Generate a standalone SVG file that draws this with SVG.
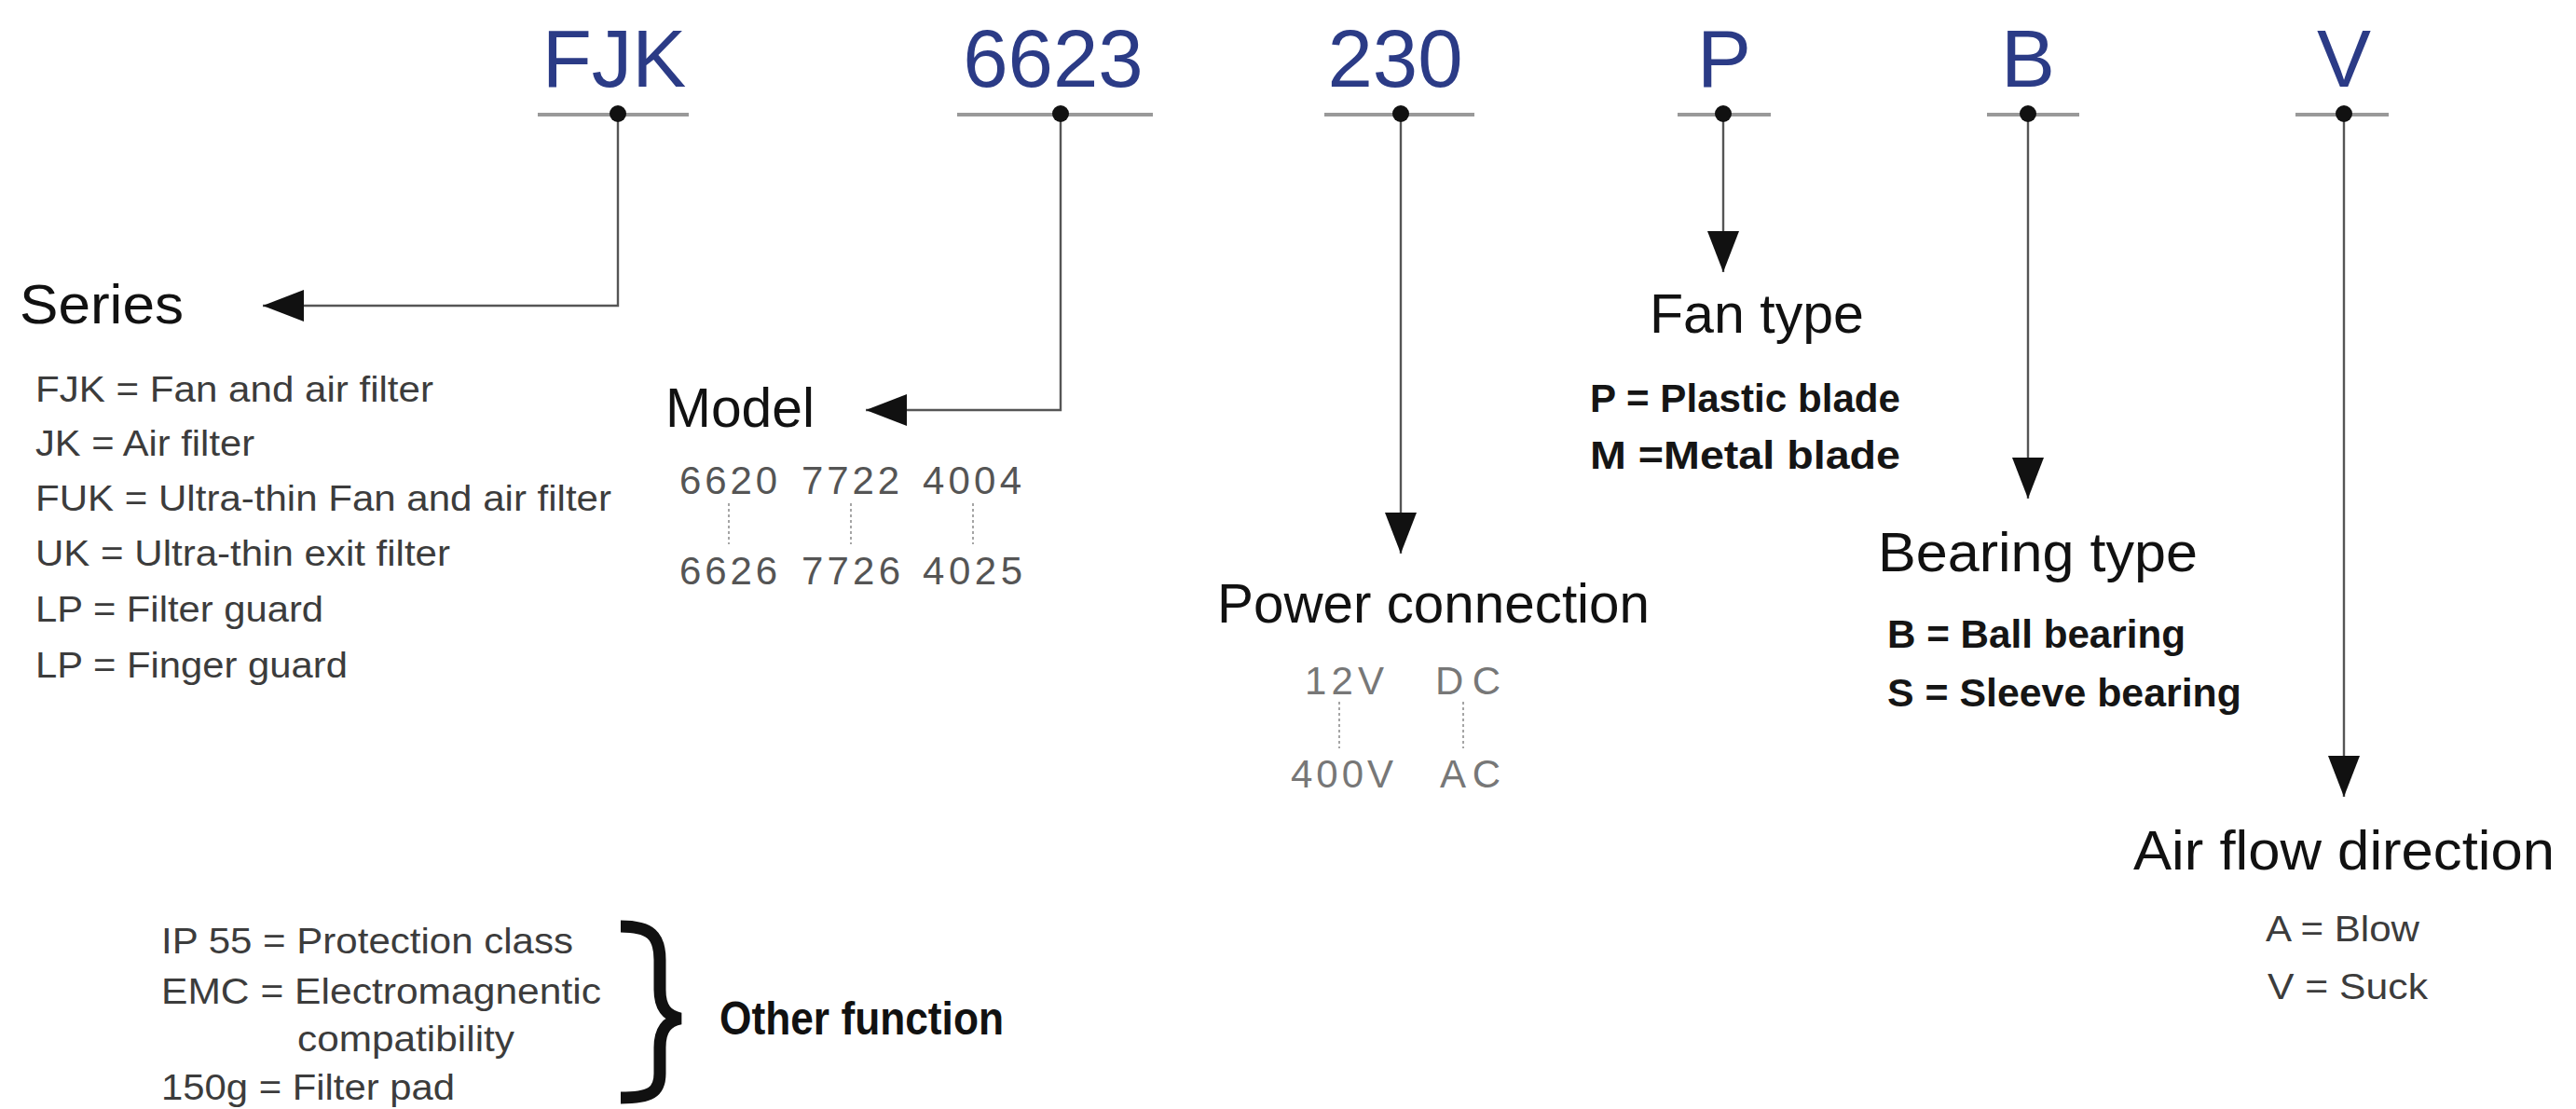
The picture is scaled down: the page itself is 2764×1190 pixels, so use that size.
<svg xmlns="http://www.w3.org/2000/svg" width="2764" height="1190" viewBox="0 0 2764 1190">
<style>
.code{font-family:"Liberation Sans",Arial,sans-serif;font-size:87px;fill:#2b3b86;text-anchor:middle}
.head{font-family:"Liberation Sans",Arial,sans-serif;font-size:60px;fill:#111}
.item{font-family:"Liberation Sans",Arial,sans-serif;font-size:38px;fill:#3c3c3c}
.bold{font-family:"Liberation Sans",Arial,sans-serif;font-size:42px;font-weight:bold;fill:#151515}
.num{font-family:"Liberation Sans",Arial,sans-serif;font-size:42px;fill:#555}
.pw{font-family:"Liberation Sans",Arial,sans-serif;font-size:42px;fill:#777}
.bar{stroke:#999;stroke-width:4}
.dot{fill:#111}
.conn{fill:none;stroke:#555;stroke-width:2.4}
.dash{stroke:#888;stroke-width:1.5;stroke-dasharray:3 3}
.brace{fill:none;stroke:#111;stroke-width:13;stroke-linecap:butt}
</style>
<defs>
<marker id="arrow" markerUnits="userSpaceOnUse" markerWidth="46" markerHeight="36" refX="44" refY="17" orient="auto">
<path d="M0,0 L44,17 L0,34 Z" fill="#111"/>
</marker>
</defs>

<g id="connectors">
<path class="conn" d="M663,123 V328 H282" marker-end="url(#arrow)"/>
<path class="conn" d="M1138,123 V440 H929" marker-end="url(#arrow)"/>
<path class="conn" d="M1503,123 V594" marker-end="url(#arrow)"/>
<path class="conn" d="M1849,123 V292" marker-end="url(#arrow)"/>
<path class="conn" d="M2176,123 V535" marker-end="url(#arrow)"/>
<path class="conn" d="M2515,123 V855" marker-end="url(#arrow)"/>
</g>

<g id="code-fjk">
<text class="code" x="659" y="93">FJK</text>
<line class="bar" x1="577" y1="123" x2="739" y2="123"/>
<circle class="dot" cx="663" cy="122" r="9"/>
</g>
<g id="code-6623">
<text class="code" x="1130" y="93">6623</text>
<line class="bar" x1="1027" y1="123" x2="1237" y2="123"/>
<circle class="dot" cx="1138" cy="122" r="9"/>
</g>
<g id="code-230">
<text class="code" x="1497" y="93">230</text>
<line class="bar" x1="1421" y1="123" x2="1582" y2="123"/>
<circle class="dot" cx="1503" cy="122" r="9"/>
</g>
<g id="code-p">
<text class="code" x="1850" y="93">P</text>
<line class="bar" x1="1800" y1="123" x2="1900" y2="123"/>
<circle class="dot" cx="1849" cy="122" r="9"/>
</g>
<g id="code-b">
<text class="code" x="2176" y="93">B</text>
<line class="bar" x1="2132" y1="123" x2="2231" y2="123"/>
<circle class="dot" cx="2176" cy="122" r="9"/>
</g>
<g id="code-v">
<text class="code" x="2515" y="93">V</text>
<line class="bar" x1="2463" y1="123" x2="2563" y2="123"/>
<circle class="dot" cx="2515" cy="122" r="9"/>
</g>

<g id="series">
<text class="head" x="21" y="347" textLength="176" lengthAdjust="spacingAndGlyphs">Series</text>
<text class="item" x="38" y="431" textLength="427" lengthAdjust="spacingAndGlyphs">FJK = Fan and air filter</text>
<text class="item" x="38" y="489" textLength="235" lengthAdjust="spacingAndGlyphs">JK = Air filter</text>
<text class="item" x="38" y="548" textLength="618" lengthAdjust="spacingAndGlyphs">FUK = Ultra-thin Fan and air filter</text>
<text class="item" x="38" y="607" textLength="445" lengthAdjust="spacingAndGlyphs">UK = Ultra-thin exit filter</text>
<text class="item" x="38" y="667" textLength="309" lengthAdjust="spacingAndGlyphs">LP = Filter guard</text>
<text class="item" x="38" y="727" textLength="335" lengthAdjust="spacingAndGlyphs">LP = Finger guard</text>
</g>

<g id="model">
<text class="head" x="714" y="458" textLength="160" lengthAdjust="spacingAndGlyphs">Model</text>
<text class="num" x="729" y="530" textLength="105" lengthAdjust="spacing">6620</text>
<text class="num" x="860" y="530" textLength="105" lengthAdjust="spacing">7722</text>
<text class="num" x="990" y="530" textLength="106" lengthAdjust="spacing">4004</text>
<line class="dash" x1="782" y1="540" x2="782" y2="584"/>
<line class="dash" x1="913" y1="540" x2="913" y2="584"/>
<line class="dash" x1="1044" y1="540" x2="1044" y2="584"/>
<text class="num" x="729" y="627" textLength="105" lengthAdjust="spacing">6626</text>
<text class="num" x="860" y="627" textLength="106" lengthAdjust="spacing">7726</text>
<text class="num" x="990" y="627" textLength="107" lengthAdjust="spacing">4025</text>
</g>

<g id="power">
<text class="head" x="1306" y="668" textLength="464" lengthAdjust="spacingAndGlyphs">Power connection</text>
<text class="pw" x="1400" y="745" textLength="85" lengthAdjust="spacing">12V</text>
<text class="pw" x="1540" y="745" textLength="70" lengthAdjust="spacing">DC</text>
<line class="dash" x1="1437" y1="753" x2="1437" y2="803"/>
<line class="dash" x1="1570" y1="753" x2="1570" y2="803"/>
<text class="pw" x="1385" y="845" textLength="110" lengthAdjust="spacing">400V</text>
<text class="pw" x="1545" y="845" textLength="65" lengthAdjust="spacing">AC</text>
</g>

<g id="fan-type">
<text class="head" x="1770" y="357" textLength="230" lengthAdjust="spacingAndGlyphs">Fan type</text>
<text class="bold" x="1706" y="442" textLength="333" lengthAdjust="spacingAndGlyphs">P = Plastic blade</text>
<text class="bold" x="1706" y="503" textLength="333" lengthAdjust="spacingAndGlyphs">M =Metal blade</text>
</g>

<g id="bearing-type">
<text class="head" x="2015" y="613" textLength="343" lengthAdjust="spacingAndGlyphs">Bearing type</text>
<text class="bold" x="2025" y="695" textLength="320" lengthAdjust="spacingAndGlyphs">B = Ball bearing</text>
<text class="bold" x="2025" y="758" textLength="380" lengthAdjust="spacingAndGlyphs">S = Sleeve bearing</text>
</g>

<g id="air-flow">
<text class="head" x="2289" y="933" textLength="452" lengthAdjust="spacingAndGlyphs">Air flow direction</text>
<text class="item" x="2431" y="1010" textLength="165" lengthAdjust="spacingAndGlyphs">A = Blow</text>
<text class="item" x="2433" y="1072" textLength="172" lengthAdjust="spacingAndGlyphs">V = Suck</text>
</g>

<g id="other-function">
<text class="item" x="173" y="1023" textLength="442" lengthAdjust="spacingAndGlyphs">IP 55 = Protection class</text>
<text class="item" x="173" y="1077" textLength="472" lengthAdjust="spacingAndGlyphs">EMC = Electromagnentic</text>
<text class="item" x="319" y="1128" textLength="233" lengthAdjust="spacingAndGlyphs">compatibility</text>
<text class="item" x="173" y="1180" textLength="315" lengthAdjust="spacingAndGlyphs">150g = Filter pad</text>
<path class="brace" d="M666,994 C698,994 708,1004 708,1030 L708,1062 C708,1082 716,1090 730,1093 C716,1096 708,1104 708,1124 L708,1152 C708,1172 698,1178 666,1178"/>
<text class="head" x="772" y="1110" style="font-size:50px;font-weight:bold" textLength="305" lengthAdjust="spacingAndGlyphs">Other function</text>
</g>
</svg>
